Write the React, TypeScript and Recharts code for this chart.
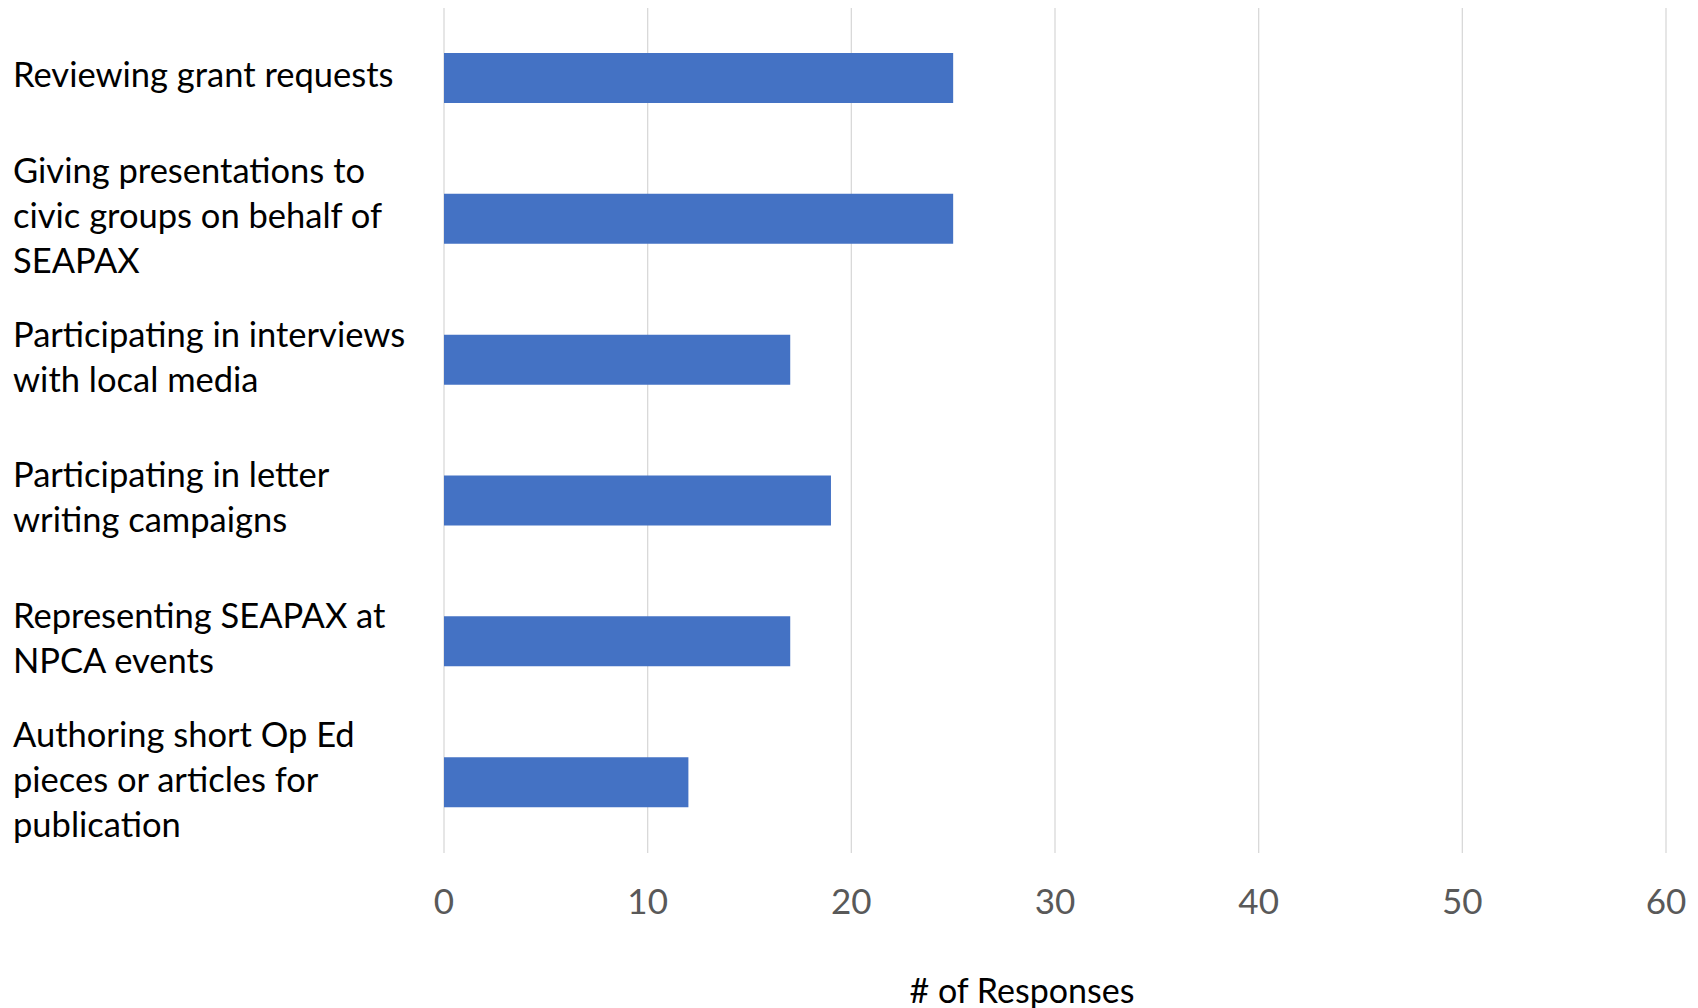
import { BarChart, Bar, XAxis, YAxis, CartesianGrid } from "recharts";

const categories = [
  "Reviewing grant requests",
  "Giving presentations to\ncivic groups on behalf of\nSEAPAX",
  "Participating in interviews\nwith local media",
  "Participating in letter\nwriting campaigns",
  "Representing SEAPAX at\nNPCA events",
  "Authoring short Op Ed\npieces or articles for\npublication",
];

const responses = [25, 25, 17, 19, 17, 12];

const xTicks = [0, 10, 20, 30, 40, 50, 60];

const data = categories.map((name, i) => ({ name, value: responses[i] }));

const FONT = "Lato, 'Open Sans', sans-serif";
const LINE_H = 45;

// multi-line, left aligned category labels
const CategoryTick = (props: any) => {
  const { y, payload } = props;
  const lines = String(payload.value).split("\n");
  const first = y + 9 - ((lines.length - 1) * LINE_H) / 2;
  return (
    <text x={13} y={first} fontFamily={FONT} fontSize={34.5} fill="#000" textAnchor="start">
      {lines.map((l, i) => (
        <tspan key={i} x={13} y={first + i * LINE_H}>
          {l}
        </tspan>
      ))}
    </text>
  );
};

const ValueTick = (props: any) => {
  const { x, y, payload } = props;
  return (
    <text x={x} y={y + 53} fontFamily={FONT} fontSize={35} fill="#595959" textAnchor="middle">
      {payload.value}
    </text>
  );
};

const AxisTitle = (props: any) => {
  const { viewBox } = props;
  const cx = viewBox.x + viewBox.width / 2 - 33;
  return (
    <text x={cx} y={1003} fontFamily={FONT} fontSize={34} fill="#000" textAnchor="middle">
      # of Responses
    </text>
  );
};

export default function App() {
  return (
    <div style={{ position: "absolute", left: 0, top: 0, width: 1698, height: 1008, background: "#fff" }}>
      <BarChart
        width={1698}
        height={1008}
        data={data}
        layout="vertical"
        margin={{ top: 8, right: 32, bottom: 0, left: 0 }}
        barCategoryGap={0}
      >
        <CartesianGrid horizontal={false} stroke="#d9d9d9" strokeWidth={1.3} />
        <XAxis
          type="number"
          domain={[0, 60]}
          ticks={xTicks}
          interval={0}
          axisLine={false}
          tickLine={false}
          height={155}
          tick={<ValueTick />}
          label={<AxisTitle />}
        />
        <YAxis
          type="category"
          dataKey="name"
          width={444}
          axisLine={false}
          tickLine={false}
          interval={0}
          tick={<CategoryTick />}
        />
        <Bar dataKey="value" fill="#4472c4" barSize={50} isAnimationActive={false} />
      </BarChart>
    </div>
  );
}
